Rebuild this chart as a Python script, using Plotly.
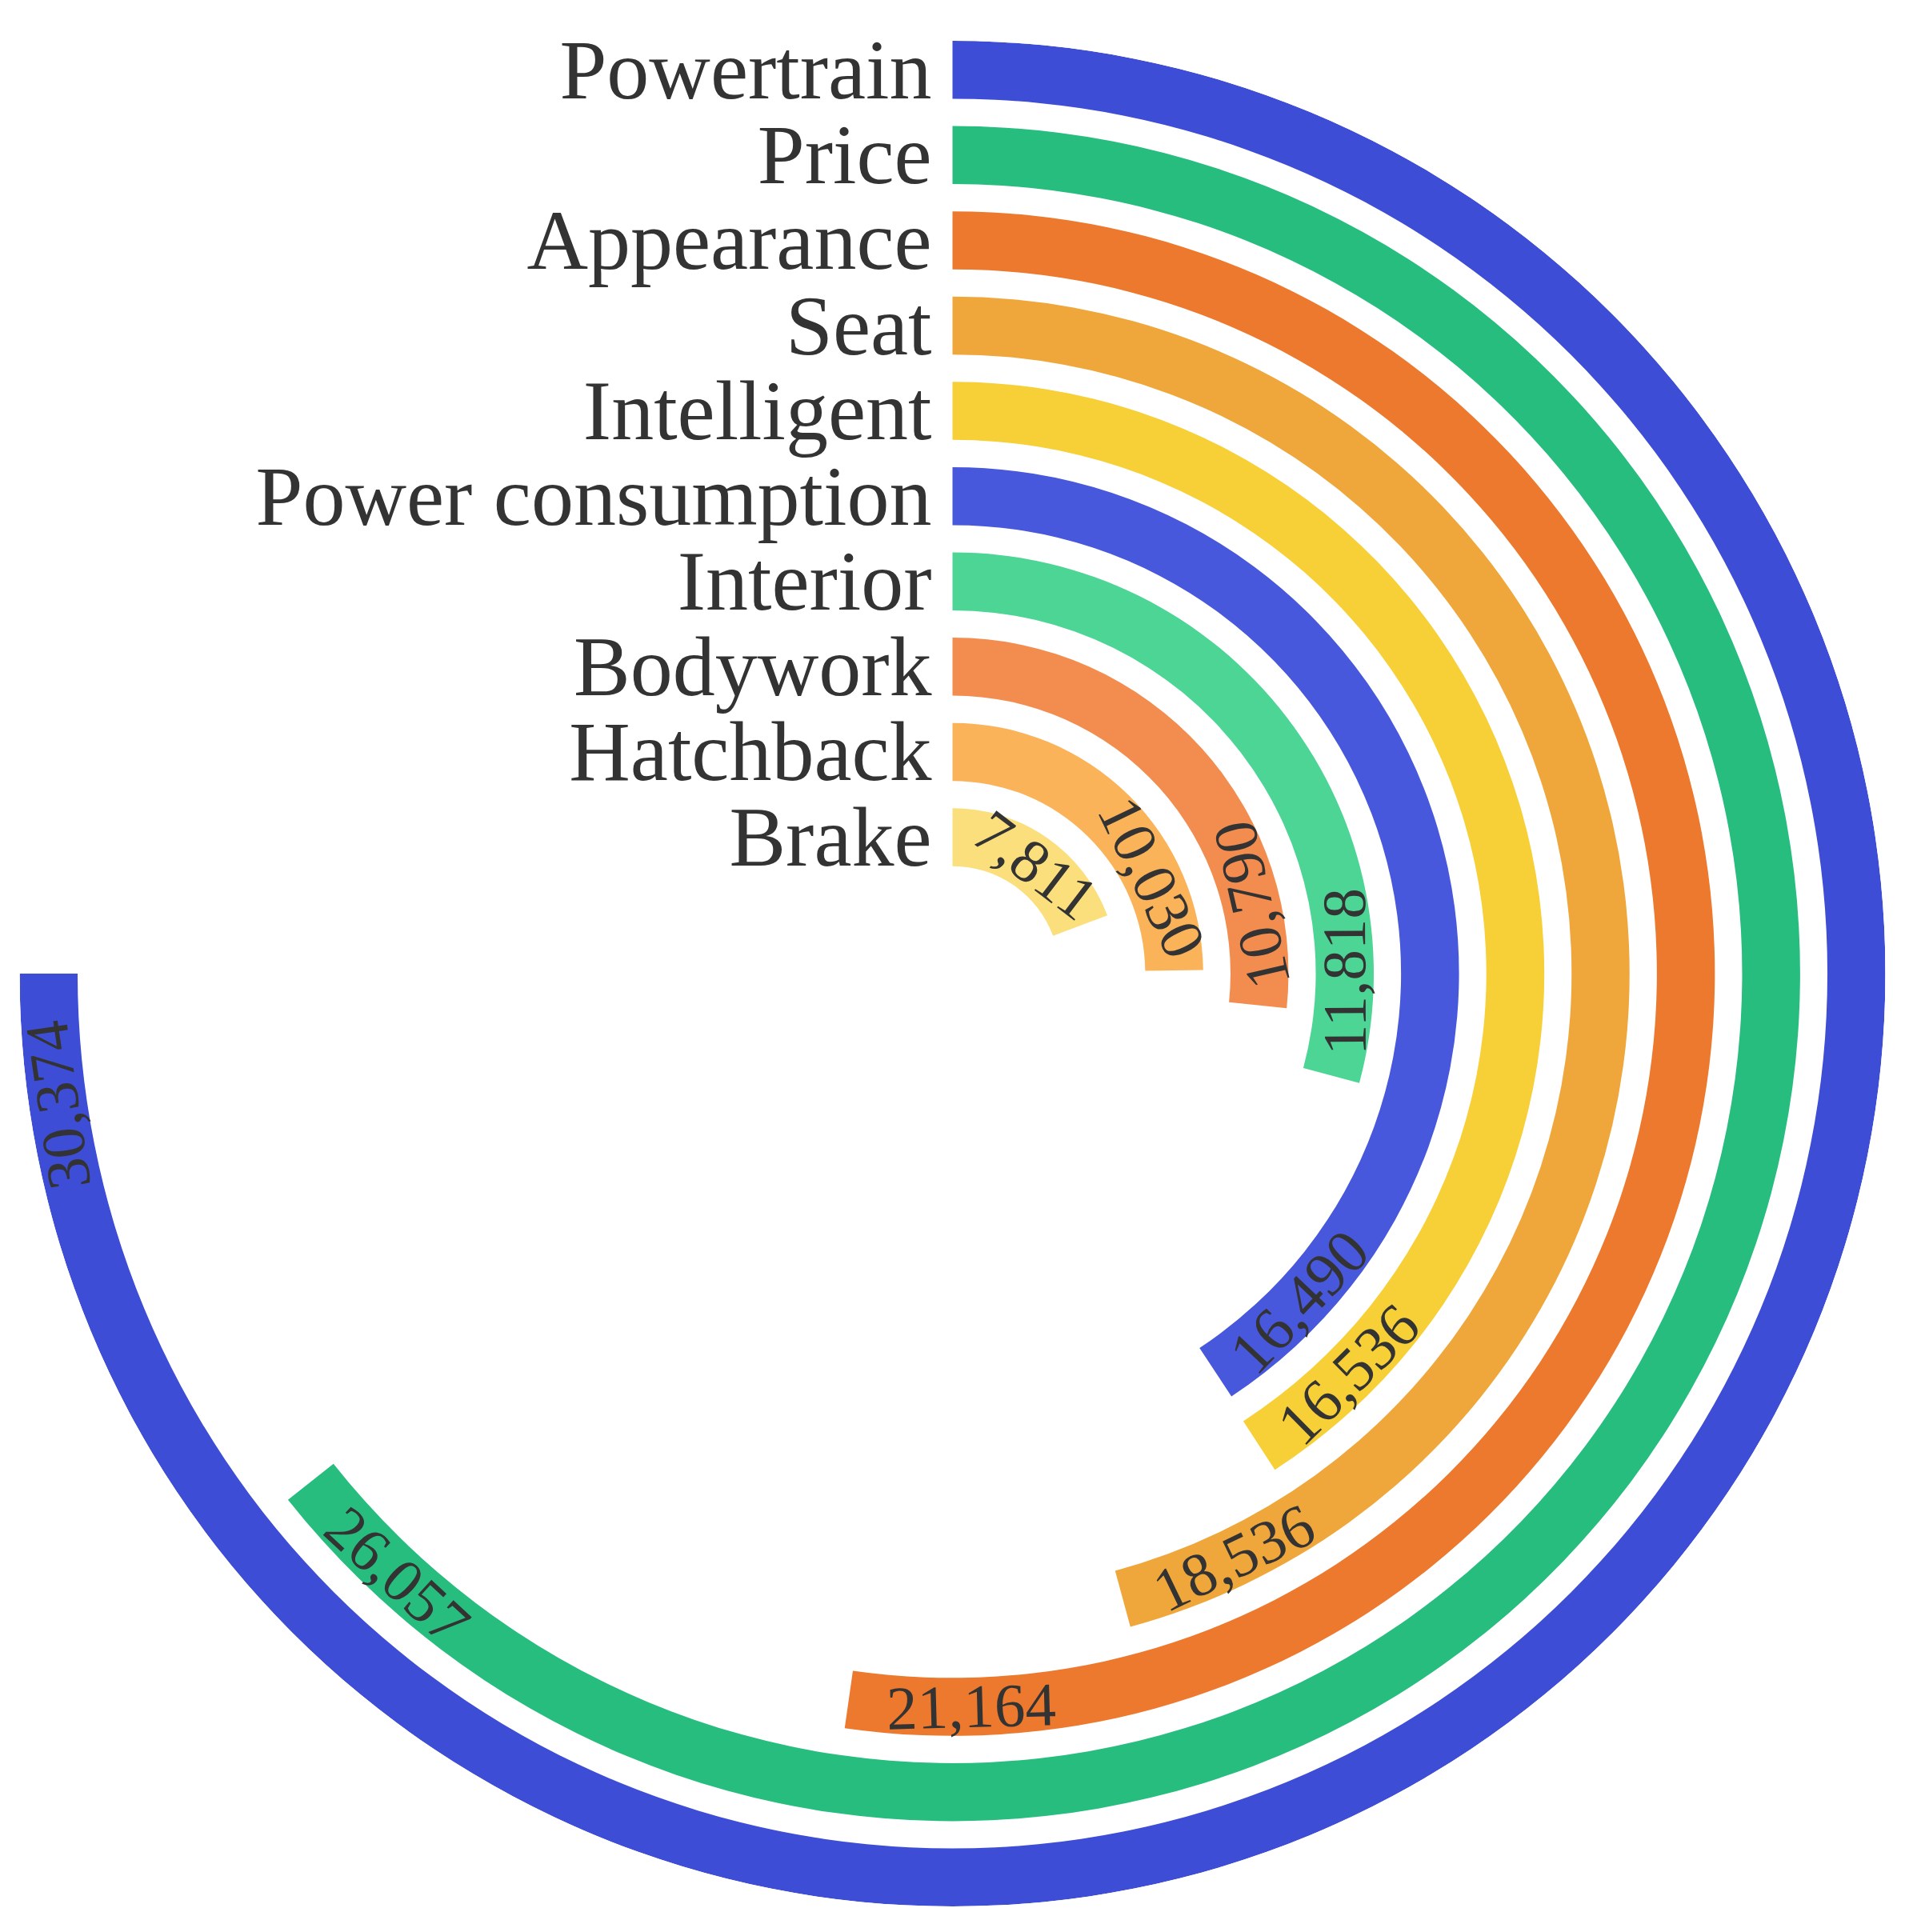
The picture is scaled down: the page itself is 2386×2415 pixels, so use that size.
import math
import plotly.graph_objects as go

# outer ring first
CATEGORIES = [
    "Powertrain",
    "Price",
    "Appearance",
    "Seat",
    "Intelligent",
    "Power consumption",
    "Interior",
    "Bodywork",
    "Hatchback",
    "Brake",
]
VALUES = [30374, 26057, 21164, 18536, 16536, 16490, 11818, 10790, 10030, 7811]
COLORS = [
    "#3d4dd6",
    "#27bd7e",
    "#ec792d",
    "#efa73b",
    "#f7cf36",
    "#4858dc",
    "#4cd595",
    "#f28d4f",
    "#fbb35a",
    "#fcdf7d",
]

W, H = 2386, 2415
CX, CY, R_OUT = 1190.5, 1217, 1166  # pixel centre / radius of the polar area
HOLE = 1.6  # radius of innermost ring centre, in ring units
BAR = 0.68  # ring thickness, in ring units
LABEL_DROP = 0.085  # nudge category names down a little
ANGLE_MAX = max(VALUES) * 4 / 3  # largest value covers 3/4 of the circle
FONT = "Liberation Serif, Times New Roman, serif"
LABEL_SIZE = 106
VALUE_SIZE = 77

n = len(CATEGORIES)
ring = [HOLE + (n - 1 - i) for i in range(n)]
r_max = ring[0] + BAR / 2
deg = [v / ANGLE_MAX * 360 for v in VALUES]

fig = go.Figure()
fig.add_trace(
    go.Barpolar(
        r=[BAR] * n,
        base=[c - BAR / 2 for c in ring],
        theta=[d / 2 for d in deg],
        width=deg,
        marker=dict(color=COLORS, line_width=0),
        hoverinfo="skip",
    )
)
fig.add_trace(
    go.Scatterpolar(
        r=[c - LABEL_DROP for c in ring],
        theta=[0] * n,
        mode="markers+text",
        text=CATEGORIES,
        textposition="middle left",
        marker=dict(size=40, color="rgba(0,0,0,0)"),
        textfont=dict(family=FONT, size=LABEL_SIZE, color="#333333"),
        hoverinfo="skip",
    )
)

# value labels along the arc, just before the end of each bar
px_per_unit = R_OUT / r_max
annotations = []
for v, c, d in zip(VALUES, ring, deg):
    txt = f"{v:,}"
    width_px = sum(0.25 if ch == "," else 0.5 for ch in txt) * VALUE_SIZE
    rp = c * px_per_unit
    phi = d - 3 - math.degrees(width_px / 2 / rp)
    ang = phi - 180 if 90 < round(d, 6) < 270 else phi
    ang = (ang + 180) % 360 - 180
    x = (CX + rp * math.sin(math.radians(phi))) / W
    y = 1 - (CY - rp * math.cos(math.radians(phi))) / H
    annotations.append(
        dict(
            x=x,
            y=y,
            xref="paper",
            yref="paper",
            text=txt,
            showarrow=False,
            textangle=ang,
            xanchor="center",
            yanchor="middle",
            font=dict(family=FONT, size=VALUE_SIZE, color="#333333"),
        )
    )

fig.update_layout(
    width=W,
    height=H,
    margin=dict(l=0, r=0, t=0, b=0, pad=0),
    paper_bgcolor="white",
    showlegend=False,
    annotations=annotations,
    polar=dict(
        domain=dict(
            x=[(CX - R_OUT) / W, (CX + R_OUT) / W],
            y=[1 - (CY + R_OUT) / H, 1 - (CY - R_OUT) / H],
        ),
        bgcolor="white",
        angularaxis=dict(visible=False, rotation=90, direction="clockwise"),
        radialaxis=dict(visible=False, range=[0, r_max]),
    ),
)

fig.write_html(
    "out.html",
    config={"displayModeBar": False},
    post_script="document.body.style.margin = '0';",
)
